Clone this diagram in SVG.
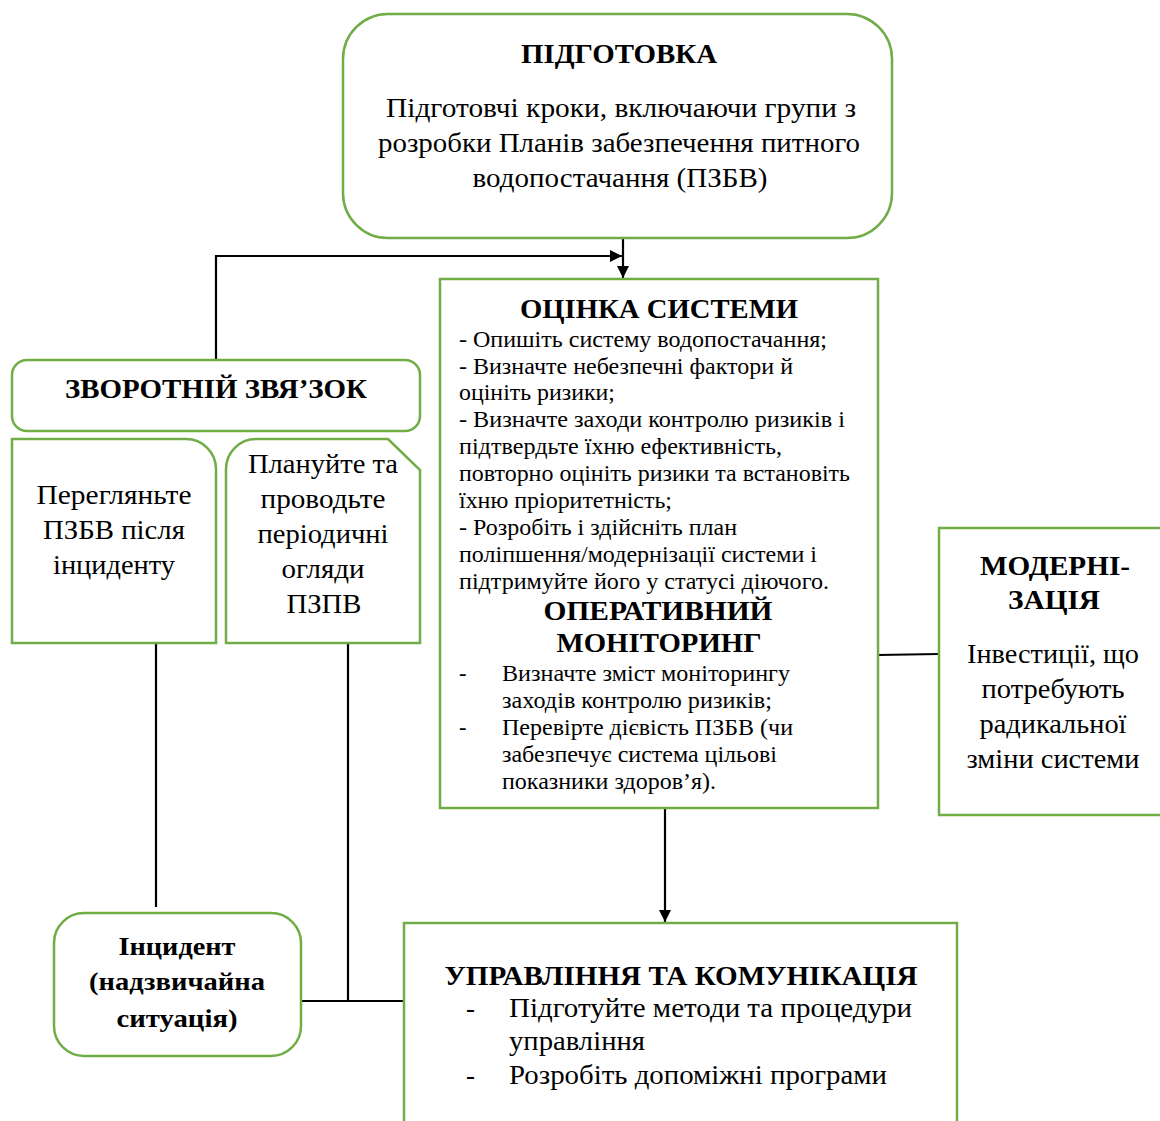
<svg xmlns="http://www.w3.org/2000/svg" width="1160" height="1121" viewBox="0 0 1160 1121">
<defs>
<style>
.box{fill:#fff;stroke:#70ad47;stroke-width:2.5}
.ln{fill:none;stroke:#000;stroke-width:2.2}
text{font-family:"Liberation Serif","Times New Roman",serif;fill:#000}
.t{font-size:27px;font-weight:bold;text-anchor:middle}
.b{font-size:27px;text-anchor:middle}
.l{font-size:27px}
.s{font-size:22.5px}
.sb{font-size:27px;font-weight:bold;text-anchor:middle}
</style>
<marker id="ah" viewBox="0 0 10 10" refX="10" refY="5" markerWidth="12" markerHeight="12" markerUnits="userSpaceOnUse" orient="auto"><path d="M0,0 L10,5 L0,10 Z" fill="#000"/></marker>
</defs>
<rect width="1160" height="1121" fill="#fff"/>
<g id="connectors">
<line class="ln" x1="623" y1="238" x2="623" y2="278" marker-end="url(#ah)"/>
<polyline class="ln" points="216,360 216,256 622,256" marker-end="url(#ah)"/>
<line class="ln" x1="878" y1="655" x2="939" y2="654"/>
<line class="ln" x1="665" y1="808" x2="665" y2="922" marker-end="url(#ah)"/>
<line class="ln" x1="156" y1="643" x2="156" y2="907"/>
<line class="ln" x1="348" y1="643" x2="348" y2="1001"/>
<line class="ln" x1="301" y1="1001" x2="404" y2="1001"/>
</g>
<g id="prep">
<rect class="box" x="343" y="14" width="549" height="224" rx="45"/>
<text class="t" x="619" y="63" textLength="196" lengthAdjust="spacingAndGlyphs">ПІДГОТОВКА</text>
<text class="b" x="621" y="117" textLength="470" lengthAdjust="spacingAndGlyphs">Підготовчі кроки, включаючи групи з</text>
<text class="b" x="619" y="152" textLength="482" lengthAdjust="spacingAndGlyphs">розробки Планів забезпечення питного</text>
<text class="b" x="620" y="187" textLength="295" lengthAdjust="spacingAndGlyphs">водопостачання (ПЗБВ)</text>
</g>
<g id="assess">
<rect class="box" x="440" y="279" width="438" height="529"/>
<text class="sb" x="659" y="318" textLength="278" lengthAdjust="spacingAndGlyphs">ОЦІНКА СИСТЕМИ</text>
<text class="s" x="459" y="347" textLength="368" lengthAdjust="spacingAndGlyphs">- Опишіть систему водопостачання;</text>
<text class="s" x="459" y="374" textLength="334" lengthAdjust="spacingAndGlyphs">- Визначте небезпечні фактори й</text>
<text class="s" x="459" y="400" textLength="156" lengthAdjust="spacingAndGlyphs">оцініть ризики;</text>
<text class="s" x="459" y="427" textLength="386" lengthAdjust="spacingAndGlyphs">- Визначте заходи контролю ризиків і</text>
<text class="s" x="459" y="454" textLength="323" lengthAdjust="spacingAndGlyphs">підтвердьте їхню ефективність,</text>
<text class="s" x="459" y="481" textLength="391" lengthAdjust="spacingAndGlyphs">повторно оцініть ризики та встановіть</text>
<text class="s" x="459" y="508" textLength="213" lengthAdjust="spacingAndGlyphs">їхню пріоритетність;</text>
<text class="s" x="459" y="535" textLength="278" lengthAdjust="spacingAndGlyphs">- Розробіть і здійсніть план</text>
<text class="s" x="459" y="562" textLength="358" lengthAdjust="spacingAndGlyphs">поліпшення/модернізації системи і</text>
<text class="s" x="459" y="589" textLength="370" lengthAdjust="spacingAndGlyphs">підтримуйте його у статусі діючого.</text>
<text class="sb" x="658" y="620" textLength="229" lengthAdjust="spacingAndGlyphs">ОПЕРАТИВНИЙ</text>
<text class="sb" x="659" y="652" textLength="205" lengthAdjust="spacingAndGlyphs">МОНІТОРИНГ</text>
<text class="s" x="459" y="681">-</text>
<text class="s" x="502" y="681" textLength="288" lengthAdjust="spacingAndGlyphs">Визначте зміст моніторингу</text>
<text class="s" x="502" y="708" textLength="270" lengthAdjust="spacingAndGlyphs">заходів контролю ризиків;</text>
<text class="s" x="459" y="735">-</text>
<text class="s" x="502" y="735" textLength="291" lengthAdjust="spacingAndGlyphs">Перевірте дієвість ПЗБВ (чи</text>
<text class="s" x="502" y="762" textLength="275" lengthAdjust="spacingAndGlyphs">забезпечує система цільові</text>
<text class="s" x="502" y="789" textLength="214" lengthAdjust="spacingAndGlyphs">показники здоров’я).</text>
</g>
<g id="modern">
<rect class="box" x="939" y="528" width="230" height="287"/>
<text class="t" x="1055" y="575" textLength="150" lengthAdjust="spacingAndGlyphs">МОДЕРНІ-</text>
<text class="t" x="1054" y="609" textLength="92" lengthAdjust="spacingAndGlyphs">ЗАЦІЯ</text>
<text class="b" x="1053" y="663" textLength="172" lengthAdjust="spacingAndGlyphs">Інвестиції, що</text>
<text class="b" x="1053" y="698" textLength="143" lengthAdjust="spacingAndGlyphs">потребують</text>
<text class="b" x="1053" y="733" textLength="147" lengthAdjust="spacingAndGlyphs">радикальної</text>
<text class="b" x="1053" y="768" textLength="173" lengthAdjust="spacingAndGlyphs">зміни системи</text>
</g>
<g id="feedback">
<rect class="box" x="12" y="360" width="408" height="71" rx="15"/>
<text class="t" x="216" y="398" textLength="302" lengthAdjust="spacingAndGlyphs">ЗВОРОТНІЙ ЗВЯ’ЗОК</text>
</g>
<g id="review">
<path class="box" d="M12,439 H186 A30,30 0 0 1 216,469 V643 H12 Z"/>
<text class="b" x="114" y="504" textLength="155" lengthAdjust="spacingAndGlyphs">Перегляньте</text>
<text class="b" x="114" y="539" textLength="142" lengthAdjust="spacingAndGlyphs">ПЗБВ після</text>
<text class="b" x="114" y="574" textLength="122" lengthAdjust="spacingAndGlyphs">інциденту</text>
</g>
<g id="periodic">
<path class="box" d="M256,439 H388 L420,470 V643 H226 V469 A30,30 0 0 1 256,439 Z"/>
<text class="b" x="323" y="473" textLength="150" lengthAdjust="spacingAndGlyphs">Плануйте та</text>
<text class="b" x="323" y="508" textLength="125" lengthAdjust="spacingAndGlyphs">проводьте</text>
<text class="b" x="323" y="543" textLength="131" lengthAdjust="spacingAndGlyphs">періодичні</text>
<text class="b" x="323" y="578" textLength="83" lengthAdjust="spacingAndGlyphs">огляди</text>
<text class="b" x="324" y="613" textLength="75" lengthAdjust="spacingAndGlyphs">ПЗПВ</text>
</g>
<g id="incident">
<rect class="box" x="54" y="913" width="247" height="143" rx="30"/>
<text class="t" x="177" y="955" style="font-size:25px" textLength="117" lengthAdjust="spacingAndGlyphs">Інцидент</text>
<text class="t" x="177" y="990" style="font-size:25px" textLength="176" lengthAdjust="spacingAndGlyphs">(надзвичайна</text>
<text class="t" x="177" y="1027" style="font-size:25px" textLength="121" lengthAdjust="spacingAndGlyphs">ситуація)</text>
</g>
<g id="manage">
<rect class="box" x="404" y="923" width="553" height="210"/>
<text class="t" x="681" y="985" textLength="473" lengthAdjust="spacingAndGlyphs">УПРАВЛІННЯ ТА КОМУНІКАЦІЯ</text>
<text class="l" x="466" y="1017">-</text>
<text class="l" x="509" y="1017" textLength="403" lengthAdjust="spacingAndGlyphs">Підготуйте методи та процедури</text>
<text class="l" x="509" y="1050" textLength="136" lengthAdjust="spacingAndGlyphs">управління</text>
<text class="l" x="466" y="1084">-</text>
<text class="l" x="509" y="1084" textLength="378" lengthAdjust="spacingAndGlyphs">Розробіть допоміжні програми</text>
</g>
</svg>
